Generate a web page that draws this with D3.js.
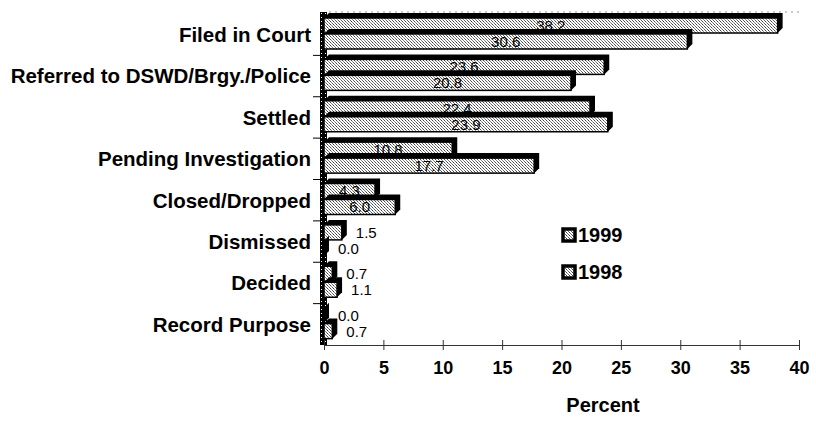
<!DOCTYPE html>
<html>
<head>
<meta charset="utf-8">
<style>
  html, body { margin: 0; padding: 0; background: #fff; }
  text { font-family: Arial, 'Liberation Sans', sans-serif; font-weight: bold; fill: #000; }
</style>
</head>
<body>
<svg id="chart" width="816" height="443"></svg>
<script src="https://cdn.jsdelivr.net/npm/d3@7"></script>
<script>
// data
var categories = ["Filed in Court", "Referred to DSWD/Brgy./Police", "Settled",
    "Pending Investigation", "Closed/Dropped", "Dismissed", "Decided", "Record Purpose"];
var series = ["1999", "1998"];
var values1999 = [38.2, 23.6, 22.4, 10.8, 4.3, 1.5, 0.7, 0.0];
var values1998 = [30.6, 20.8, 23.9, 17.7, 6.0, 0.0, 1.1, 0.7];
var xTicks = [0, 5, 10, 15, 20, 25, 30, 35, 40];

var svg = d3.select("#chart");

var x = d3.scaleLinear().domain([0, 40]).range([324, 799]);
var y = d3.scaleBand().domain(categories).range([14, 345]);
var ySub = d3.scaleBand().domain(series).range([4, 35]).paddingInner(0.06);

var depth = 5;

// dotted fill like the printed hatch
var defs = svg.append("defs");
var pat = defs.append("pattern")
    .attr("id", "dots").attr("width", 3).attr("height", 3)
    .attr("patternUnits", "userSpaceOnUse");
pat.append("rect").attr("width", 3).attr("height", 3).attr("fill", "#fff");
pat.append("rect").attr("x", 0).attr("y", 0).attr("width", 1).attr("height", 1).attr("fill", "#444");
pat.append("rect").attr("x", 1).attr("y", 1).attr("width", 1).attr("height", 1).attr("fill", "#888");
pat.append("rect").attr("x", 2).attr("y", 2).attr("width", 1).attr("height", 1).attr("fill", "#666");

var wallPat = defs.append("pattern")
    .attr("id", "wall").attr("width", 4).attr("height", 4)
    .attr("patternUnits", "userSpaceOnUse");
wallPat.append("rect").attr("width", 4).attr("height", 4).attr("fill", "#000");
wallPat.append("rect").attr("x", 1).attr("y", 1).attr("width", 1).attr("height", 1).attr("fill", "#fff");

// back edge of the plot
svg.append("line")
    .attr("x1", x(0) + depth).attr("x2", x(40))
    .attr("y1", 12).attr("y2", 12)
    .attr("stroke", "#999").attr("stroke-dasharray", "2,4");

// left wall, seen edge on
svg.append("rect")
    .attr("x", x(0) - 4).attr("y", 12)
    .attr("width", 7).attr("height", 345 - 12)
    .attr("fill", "url(#wall)");

// category boundary ticks
svg.append("g").selectAll("line")
    .data(categories.slice(1))
    .enter().append("line")
    .attr("x1", x(0) - 11).attr("x2", x(0) - 4)
    .attr("y1", function(d) { return y(d); })
    .attr("y2", function(d) { return y(d); })
    .attr("stroke", "#000");

// x axis
var xAxis = svg.append("g").attr("transform", "translate(0,345)")
    .call(d3.axisBottom(x).tickValues(xTicks).tickSize(0).tickPadding(16));
xAxis.select(".domain").attr("stroke", "#333").attr("stroke-width", 1);
xAxis.selectAll(".tick line").remove();
xAxis.selectAll(".tick").append("line")
    .attr("y1", -5).attr("y2", 5).attr("stroke", "#333");
xAxis.selectAll(".tick text")
    .style("font-size", "18px").style("font-weight", "bold")
    .style("font-family", "Arial, 'Liberation Sans', sans-serif").attr("fill", "#000");

// category labels
svg.append("g").selectAll("text")
    .data(categories)
    .enter().append("text")
    .attr("x", 311)
    .attr("y", function(d) { return y(d) + y.bandwidth() / 2; })
    .attr("dy", "0.36em")
    .attr("text-anchor", "end")
    .style("font-size", "20.5px")
    .text(function(d) { return d; });

// bars
var rows = [];
categories.forEach(function(c, i) {
    rows.push({cat: c, s: "1999", v: values1999[i]});
    rows.push({cat: c, s: "1998", v: values1998[i]});
});

var bars = svg.append("g").selectAll("g")
    .data(rows)
    .enter().append("g");

bars.append("path")
    .attr("d", function(d) {
        var x0 = x(0), x1 = x(d.v);
        var y0 = y(d.cat) + ySub(d.s), h = ySub.bandwidth();
        return "M" + x0 + "," + y0 +
            "L" + (x0 + depth) + "," + (y0 - depth) +
            "L" + (x1 + depth) + "," + (y0 - depth) +
            "L" + (x1 + depth) + "," + (y0 + h - depth) +
            "L" + x1 + "," + (y0 + h) + "Z";
    })
    .attr("fill", "#000");

bars.append("rect")
    .attr("x", x(0))
    .attr("y", function(d) { return y(d.cat) + ySub(d.s); })
    .attr("width", function(d) { return Math.max(0, x(d.v) - x(0)); })
    .attr("height", ySub.bandwidth())
    .attr("fill", "url(#dots)")
    .attr("stroke", "#000")
    .attr("stroke-width", 1.5);

// value labels
bars.append("text")
    .attr("x", function(d) {
        return d.v > 3 ? (x(0) + x(d.v)) / 2 : x(d.v) + depth + 9;
    })
    .attr("y", function(d) { return y(d.cat) + ySub(d.s) + ySub.bandwidth() / 2; })
    .attr("dy", "0.36em")
    .attr("text-anchor", function(d) { return d.v > 3 ? "middle" : "start"; })
    .style("font-size", "15px")
    .style("font-weight", "normal")
    .attr("fill", function(d) { return d.v > 3 ? "#222" : "#000"; })
    .text(function(d) { return d.v.toFixed(1); });

// legend
var legend = svg.append("g").selectAll("g")
    .data(series)
    .enter().append("g")
    .attr("transform", function(d, i) { return "translate(563," + (229 + i * 37) + ")"; });
legend.append("rect")
    .attr("width", 12).attr("height", 12)
    .attr("fill", "url(#dots)").attr("stroke", "#000").attr("stroke-width", 3.5);
legend.append("text")
    .attr("x", 15).attr("y", 6).attr("dy", "0.36em")
    .style("font-size", "20px")
    .text(function(d) { return d; });

// axis title
svg.append("text")
    .attr("x", 603).attr("y", 412)
    .attr("text-anchor", "middle")
    .style("font-size", "20px")
    .text("Percent");
</script>
</body>
</html>
